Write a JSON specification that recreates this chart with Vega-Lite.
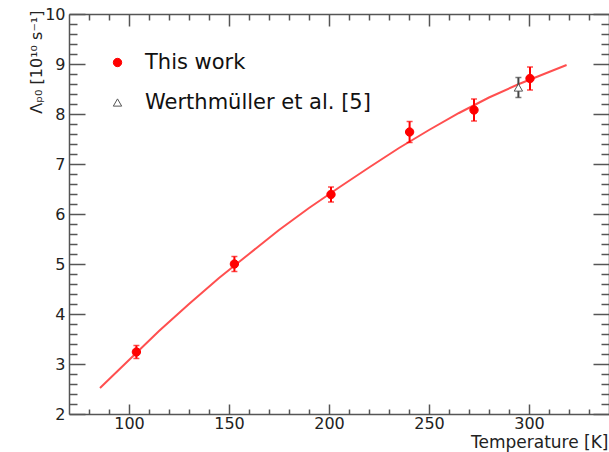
{
  "$schema": "https://vega.github.io/schema/vega-lite/v6.json",
  "width": 540,
  "height": 400,
  "autosize": {"type": "none"},
  "padding": {"left": 69, "top": 14, "right": 0, "bottom": 38},
  "background": "white",
  "config": {
    "view": {"stroke": null},
    "axis": {
      "domainColor": "#555555", "domainWidth": 1.5,
      "tickColor": "#555555", "tickWidth": 1.5,
      "grid": false,
      "labelFont": "DejaVu Sans", "labelFontSize": 16, "labelColor": "#222222",
      "titleFont": "DejaVu Sans", "titleFontWeight": "normal", "titleColor": "#222222"
    }
  },
  "datasets": {
    "curve": [
      {"T": 85.5, "v": 2.52}, {"T": 100, "v": 3.08}, {"T": 115, "v": 3.66},
      {"T": 130, "v": 4.20}, {"T": 145, "v": 4.72}, {"T": 160, "v": 5.20},
      {"T": 175, "v": 5.68}, {"T": 190, "v": 6.12}, {"T": 205, "v": 6.53},
      {"T": 220, "v": 6.93}, {"T": 235, "v": 7.32}, {"T": 250, "v": 7.68},
      {"T": 265, "v": 8.02}, {"T": 280, "v": 8.33}, {"T": 295, "v": 8.60},
      {"T": 310, "v": 8.84}, {"T": 318.8, "v": 8.98}
    ],
    "meas": [
      {"series": "This work", "T": 103.7, "v": 3.24, "lo": 3.11, "hi": 3.37},
      {"series": "This work", "T": 152.7, "v": 5.00, "lo": 4.85, "hi": 5.15},
      {"series": "This work", "T": 201.0, "v": 6.39, "lo": 6.24, "hi": 6.54},
      {"series": "This work", "T": 240.3, "v": 7.64, "lo": 7.43, "hi": 7.85},
      {"series": "This work", "T": 272.5, "v": 8.08, "lo": 7.86, "hi": 8.30},
      {"series": "This work", "T": 300.5, "v": 8.71, "lo": 8.48, "hi": 8.94},
      {"series": "Werthmüller et al. [5]", "T": 294.7, "v": 8.53, "lo": 8.33, "hi": 8.73}
    ]
  },
  "layer": [
    {
      "data": {"name": "curve"},
      "mark": {"type": "line", "color": "#ff3c3c", "strokeWidth": 2, "opacity": 0.9},
      "encoding": {
        "x": {"field": "T", "type": "quantitative",
          "scale": {"domain": [70, 340], "nice": false, "zero": false},
          "axis": {"orient": "bottom", "values": [100, 150, 200, 250, 300], "tickSize": -10, "labelPadding": 11,
            "title": "Temperature [K]", "titleFontSize": 17, "titleAnchor": "end", "titleAlign": "right",
            "titleX": 539, "titleY": 33, "titleBaseline": "alphabetic"}},
        "y": {"field": "v", "type": "quantitative",
          "scale": {"domain": [2, 10], "nice": false, "zero": false},
          "axis": {"orient": "left", "values": [2, 3, 4, 5, 6, 7, 8, 9, 10], "tickSize": -16, "labelPadding": 20,
            "title": "Λₚ₀ [10¹⁰ s⁻¹]", "titleFontSize": 16, "titleAngle": -90, "titleAlign": "right",
            "titleX": -28, "titleY": -4, "titleBaseline": "alphabetic"}}
      }
    },
    {
      "data": {"name": "meas"},
      "mark": {"type": "rule", "strokeWidth": 2},
      "encoding": {
        "x": {"field": "T", "type": "quantitative",
          "scale": {"domain": [70, 340], "nice": false, "zero": false},
          "axis": {"orient": "bottom", "values": [80, 90, 110, 120, 130, 140, 160, 170, 180, 190, 210, 220, 230, 240, 260, 270, 280, 290, 310, 320, 330],
            "tickSize": -5, "labels": false, "domain": false, "title": null}},
        "y": {"field": "lo", "type": "quantitative",
          "scale": {"domain": [2, 10], "nice": false, "zero": false},
          "axis": {"orient": "left", "values": [2.2, 2.4, 2.6, 2.8, 3.2, 3.4, 3.6, 3.8, 4.2, 4.4, 4.6, 4.8, 5.2, 5.4, 5.6, 5.8, 6.2, 6.4, 6.6, 6.8, 7.2, 7.4, 7.6, 7.8, 8.2, 8.4, 8.6, 8.8, 9.2, 9.4, 9.6, 9.8],
            "tickSize": -8, "labels": false, "domain": false, "title": null}},
        "y2": {"field": "hi"},
        "color": {"field": "series", "type": "nominal",
          "scale": {"domain": ["Werthmüller et al. [5]", "This work"], "range": ["#444444", "#ff0000"]}, "legend": null}
      }
    },
    {
      "data": {"name": "meas"},
      "mark": {"type": "tick", "orient": "horizontal", "size": 6, "thickness": 1.5},
      "encoding": {
        "x": {"field": "T", "type": "quantitative",
          "scale": {"domain": [70, 340], "nice": false, "zero": false},
          "axis": {"orient": "top", "values": [100, 150, 200, 250, 300], "tickSize": -12, "labels": false, "title": null}},
        "y": {"field": "lo", "type": "quantitative",
          "scale": {"domain": [2, 10], "nice": false, "zero": false},
          "axis": {"orient": "right", "values": [2, 3, 4, 5, 6, 7, 8, 9, 10], "tickSize": -16, "labels": false, "title": null}},
        "color": {"field": "series", "type": "nominal",
          "scale": {"domain": ["Werthmüller et al. [5]", "This work"], "range": ["#444444", "#ff0000"]}, "legend": null}
      }
    },
    {
      "data": {"name": "meas"},
      "mark": {"type": "tick", "orient": "horizontal", "size": 6, "thickness": 1.5},
      "encoding": {
        "x": {"field": "T", "type": "quantitative",
          "scale": {"domain": [70, 340], "nice": false, "zero": false},
          "axis": {"orient": "top", "values": [80, 90, 110, 120, 130, 140, 160, 170, 180, 190, 210, 220, 230, 240, 260, 270, 280, 290, 310, 320, 330],
            "tickSize": -6, "labels": false, "domain": false, "title": null}},
        "y": {"field": "hi", "type": "quantitative",
          "scale": {"domain": [2, 10], "nice": false, "zero": false},
          "axis": {"orient": "right", "values": [2.2, 2.4, 2.6, 2.8, 3.2, 3.4, 3.6, 3.8, 4.2, 4.4, 4.6, 4.8, 5.2, 5.4, 5.6, 5.8, 6.2, 6.4, 6.6, 6.8, 7.2, 7.4, 7.6, 7.8, 8.2, 8.4, 8.6, 8.8, 9.2, 9.4, 9.6, 9.8],
            "tickSize": -8, "labels": false, "domain": false, "title": null}},
        "color": {"field": "series", "type": "nominal",
          "scale": {"domain": ["Werthmüller et al. [5]", "This work"], "range": ["#444444", "#ff0000"]}, "legend": null}
      }
    },
    {
      "data": {"name": "meas"},
      "mark": {"type": "point", "filled": true, "size": 70, "strokeWidth": 1, "opacity": 1},
      "encoding": {
        "x": {"field": "T", "type": "quantitative",
          "scale": {"domain": [70, 340], "nice": false, "zero": false}, "axis": null},
        "y": {"field": "v", "type": "quantitative",
          "scale": {"domain": [2, 10], "nice": false, "zero": false}, "axis": null},
        "fill": {"field": "series", "type": "nominal",
          "scale": {"domain": ["This work", "Werthmüller et al. [5]"], "range": ["#ff0000", "#ffffff"]}},
        "stroke": {"field": "series", "type": "nominal",
          "scale": {"domain": ["This work", "Werthmüller et al. [5]"], "range": ["#ff0000", "#555555"]}},
        "shape": {"field": "series", "type": "nominal",
          "scale": {"domain": ["This work", "Werthmüller et al. [5]"], "range": ["circle", "triangle-up"]},
          "legend": {"orient": "none", "legendX": 38, "legendY": 38, "title": null,
            "labelFont": "DejaVu Sans", "labelFontSize": 21, "labelColor": "#111111", "labelLimit": 400,
            "labelOffset": 17, "rowPadding": 18, "symbolSize": 70, "symbolStrokeWidth": 1}}
      }
    }
  ],
  "resolve": {"axis": {"x": "independent", "y": "independent"}}
}
